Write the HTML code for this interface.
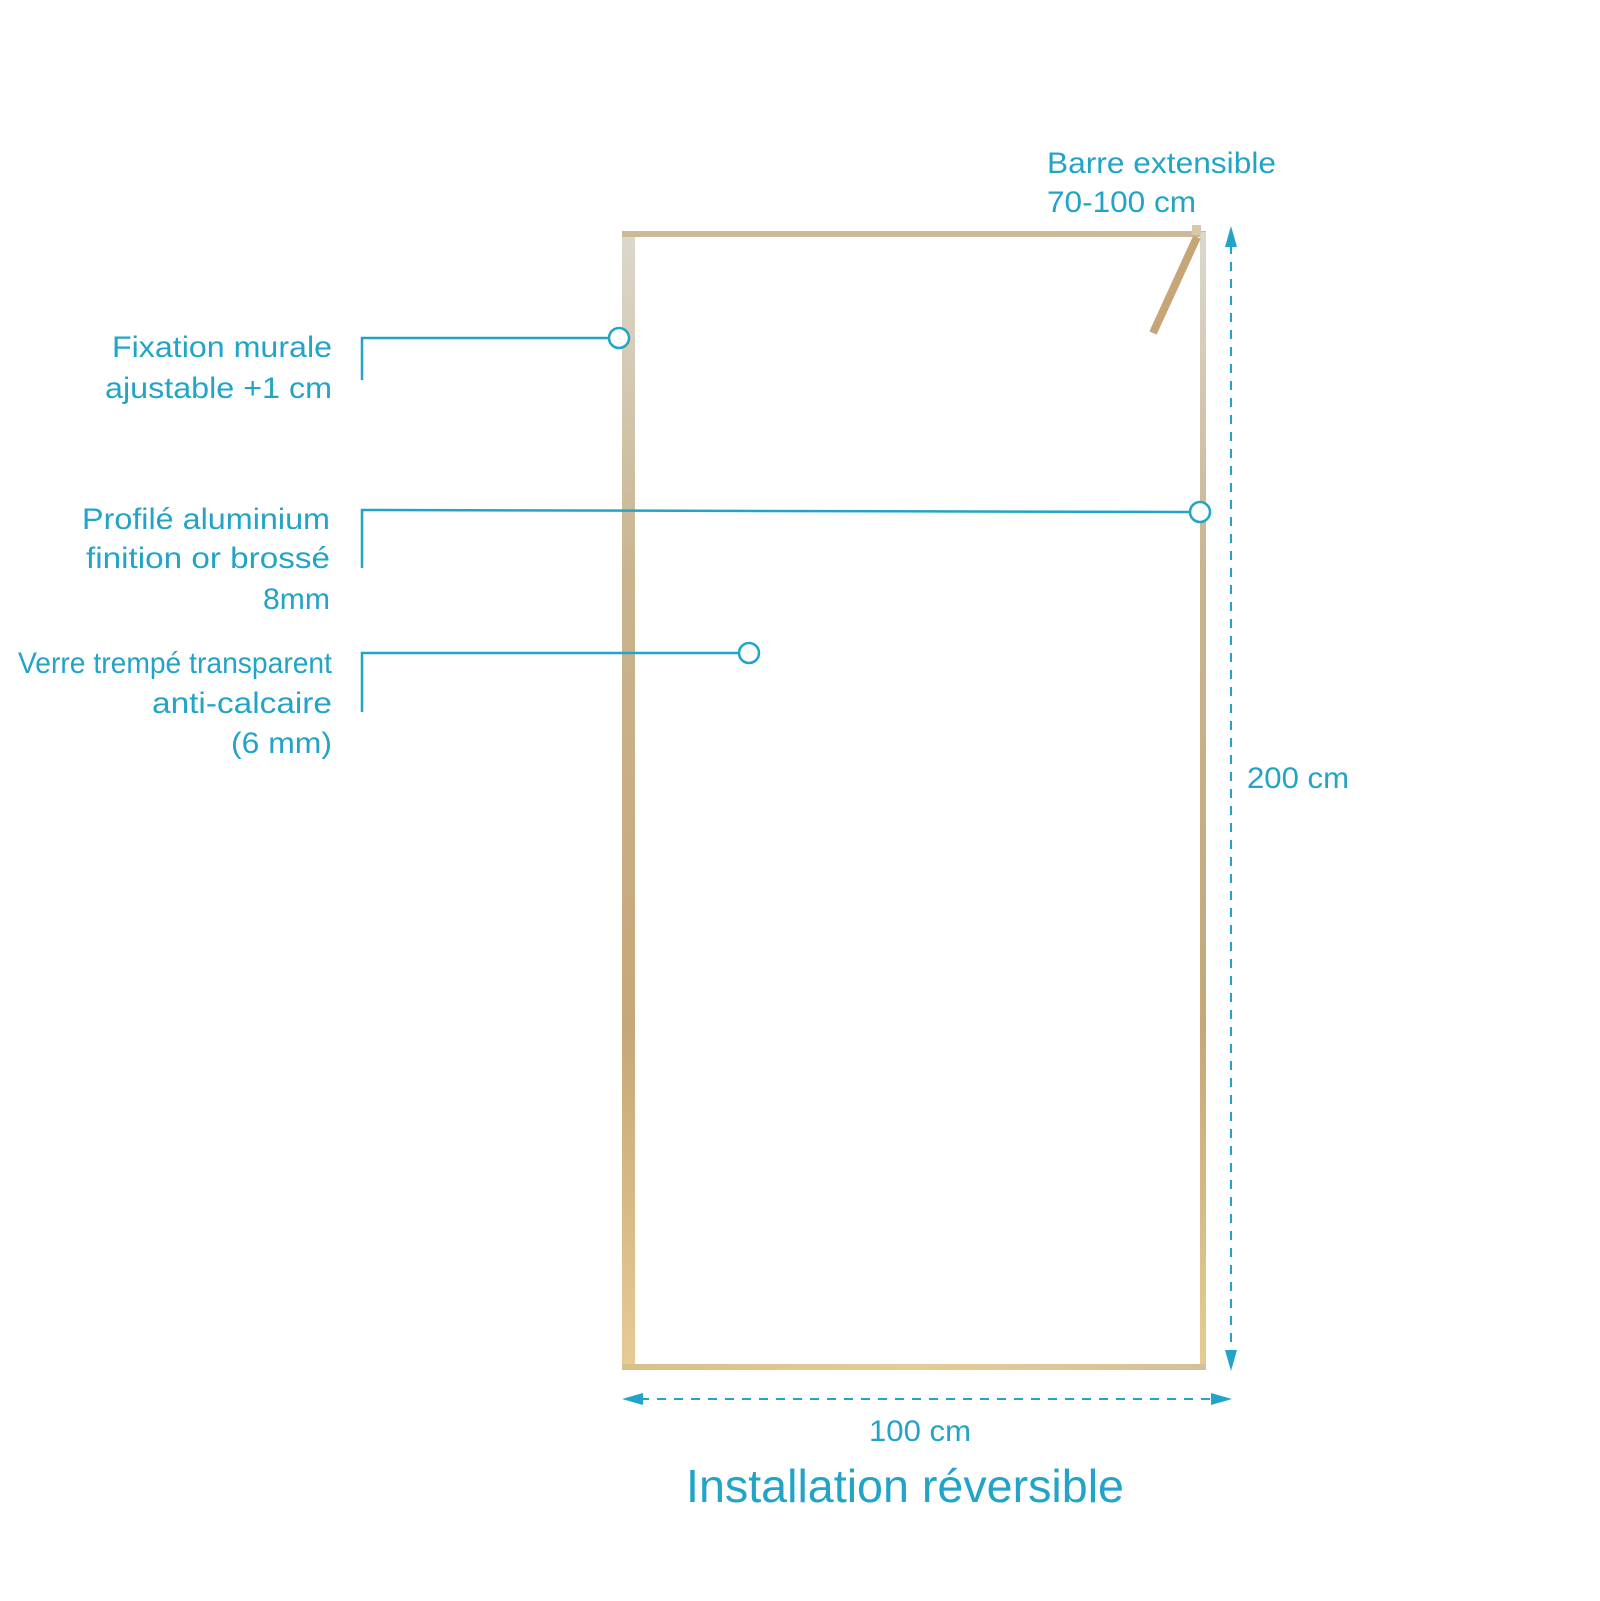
<!DOCTYPE html>
<html><head><meta charset="utf-8"><style>
html,body{margin:0;padding:0;background:#fff;width:1600px;height:1601px;overflow:hidden}
svg text{font-family:"Liberation Sans",sans-serif;fill:#22a4c8}
</style></head><body>
<svg width="1600" height="1601" viewBox="0 0 1600 1601" xmlns="http://www.w3.org/2000/svg">
<defs>
<linearGradient id="gv" x1="0" y1="0" x2="0" y2="1">
<stop offset="0" stop-color="#dcd8cc"/><stop offset="0.3" stop-color="#c9b48f"/><stop offset="0.7" stop-color="#c6a878"/><stop offset="1" stop-color="#e6cc94"/>
</linearGradient>
<linearGradient id="gh" x1="0" y1="0" x2="1" y2="0">
<stop offset="0" stop-color="#d8bf8c"/><stop offset="0.5" stop-color="#e4cc98"/><stop offset="1" stop-color="#d6c09a"/>
</linearGradient>
</defs>
<!-- frame -->
<rect x="622" y="232" width="13" height="1138" fill="url(#gv)"/>
<rect x="622" y="231" width="584" height="6" fill="#cdb898"/>
<rect x="1200" y="232" width="6" height="1138" fill="url(#gv)"/>
<rect x="622" y="1364" width="584" height="6" fill="url(#gh)"/>
<!-- barre -->
<line x1="1197" y1="237" x2="1153" y2="333" stroke="#c6a676" stroke-width="8"/>
<rect x="1192" y="225" width="9" height="10" fill="#d8c8a8"/>
<!-- dimension lines -->
<g stroke="#22a4c8" stroke-width="2" stroke-dasharray="9,8" fill="none">
<line x1="1231" y1="245" x2="1231" y2="1355"/>
<line x1="640" y1="1399" x2="1215" y2="1399"/>
</g>
<g fill="#22a4c8">
<polygon points="1231,226 1225,247 1237,247"/>
<polygon points="1231,1371 1225,1350 1237,1350"/>
<polygon points="622,1399 643,1393 643,1405"/>
<polygon points="1232,1399 1211,1393 1211,1405"/>
</g>
<!-- leaders -->
<g stroke="#22a4c8" stroke-width="2.5" fill="none">
<polyline points="362,380 362,338 609,338"/>
<circle cx="619" cy="338" r="10" fill="#fff"/>
<polyline points="362,568 362,510 1190,512"/>
<circle cx="1200" cy="512" r="10" fill="#fff"/>
<polyline points="362,712 362,653 739,653"/>
<circle cx="749" cy="653" r="10" fill="#fff"/>
</g>
<!-- labels -->
<g font-size="30" text-anchor="end">
<text x="332" y="357" textLength="220" lengthAdjust="spacingAndGlyphs">Fixation murale</text>
<text x="332" y="398" textLength="227" lengthAdjust="spacingAndGlyphs">ajustable +1 cm</text>
<text x="330" y="529" textLength="248" lengthAdjust="spacingAndGlyphs">Profilé aluminium</text>
<text x="330" y="568" textLength="244" lengthAdjust="spacingAndGlyphs">finition or brossé</text>
<text x="330" y="609" textLength="67" lengthAdjust="spacingAndGlyphs">8mm</text>
<text x="332" y="673" textLength="314" lengthAdjust="spacingAndGlyphs">Verre trempé transparent</text>
<text x="332" y="713" textLength="180" lengthAdjust="spacingAndGlyphs">anti-calcaire</text>
<text x="332" y="753" textLength="101" lengthAdjust="spacingAndGlyphs">(6 mm)</text>
</g>
<g font-size="30">
<text x="1047" y="173" textLength="229" lengthAdjust="spacingAndGlyphs">Barre extensible</text>
<text x="1047" y="212" textLength="149" lengthAdjust="spacingAndGlyphs">70-100 cm</text>
<text x="1247" y="788" textLength="102" lengthAdjust="spacingAndGlyphs">200 cm</text>
<text x="869" y="1441" textLength="102" lengthAdjust="spacingAndGlyphs">100 cm</text>
<text x="686" y="1502" font-size="46" textLength="438" lengthAdjust="spacingAndGlyphs">Installation réversible</text>
</g>
</svg>
</body></html>
